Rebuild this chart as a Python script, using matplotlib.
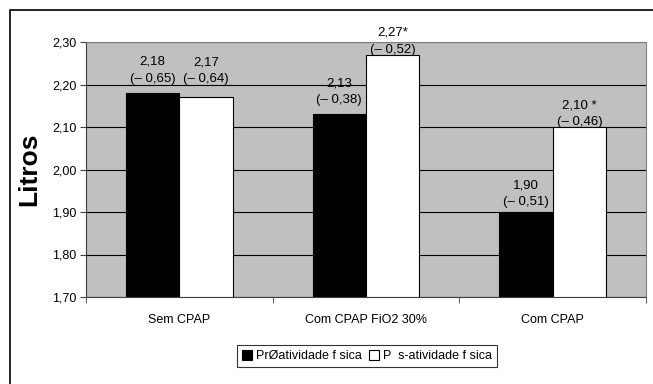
import numpy as np
import matplotlib.pyplot as plt
from matplotlib.patches import Rectangle

# dados
categorias = ['Sem CPAP', 'Com CPAP FiO2 30%', 'Com CPAP']
pre = [2.18, 2.13, 1.90]
pos = [2.17, 2.27, 2.10]
rot_pre = ['2,18\n(– 0,65)', '2,13\n(– 0,38)', '1,90\n(– 0,51)']
rot_pos = ['2,17\n(– 0,64)', '2,27*\n(– 0,52)', '2,10 *\n(– 0,46)']
serie_nomes = ['PrØatividade f sica', 'P  s-atividade f sica']

# deslocamento dos rótulos acima da barra (pontos)
desl_pre = [5.8, 5.8, 2.9]
desl_pos = [8.6, -0.7, -0.7]

plt.rcParams['font.family'] = ['Liberation Sans', 'DejaVu Sans']

fig = plt.figure(figsize=(6.53, 3.84), dpi=100)
# moldura externa (cortada à direita e embaixo)
fig.patches.append(Rectangle((10 / 653, -0.1), 1.1, (384 - 10) / 384 + 0.1,
                             transform=fig.transFigure, fill=False,
                             edgecolor='black', linewidth=1.2))

ax = fig.add_axes([86 / 653, 1 - 297 / 384, (646 - 86) / 653, (297 - 42) / 384])
ax.set_facecolor('#c0c0c0')

x = np.arange(len(categorias))
w = 0.286
b1 = ax.bar(x - w / 2, [v - 1.7 for v in pre], w, bottom=1.7, color='black',
            edgecolor='black', linewidth=0.8, label=serie_nomes[0], zorder=3)
b2 = ax.bar(x + w / 2, [v - 1.7 for v in pos], w, bottom=1.7, color='white',
            edgecolor='black', linewidth=0.8, label=serie_nomes[1], zorder=3)

for xi, v, t, d in zip(x - w / 2, pre, rot_pre, desl_pre):
    ax.annotate(t, (xi, v), xytext=(0, d), textcoords='offset points',
                ha='center', va='bottom', fontsize=9.5, linespacing=1.55, zorder=4)
for xi, v, t, d in zip(x + w / 2, pos, rot_pos, desl_pos):
    ax.annotate(t, (xi, v), xytext=(0, d), textcoords='offset points',
                ha='center', va='bottom', fontsize=9.5, linespacing=1.55,
                annotation_clip=False, zorder=4)

ax.set_ylim(1.70, 2.30)
ax.set_xlim(-0.5, 2.5)
yt = np.arange(1.70, 2.301, 0.10)
ax.set_yticks(yt)
ax.set_yticklabels([f'{v:.2f}'.replace('.', ',') for v in yt], fontsize=9)
ax.yaxis.grid(True, color='black', linewidth=0.8, zorder=1)
ax.set_axisbelow(True)

ax.set_xticks(x)
ax.set_xticklabels(categorias, fontsize=9)
ax.tick_params(axis='x', length=0, pad=12)
ax.set_xticks([-0.5, 0.5, 1.5, 2.5], minor=True)
ax.tick_params(axis='x', which='minor', length=4, direction='out', color='#404040')
ax.tick_params(axis='y', length=4, direction='out', color='#404040', pad=3)

for s in ['top', 'right']:
    ax.spines[s].set_color('#808080')
for s in ['left', 'bottom']:
    ax.spines[s].set_color('#404040')

ax.set_ylabel('Litros', fontsize=19, fontweight='bold', labelpad=8)

leg = fig.legend(handles=[b1, b2], loc='center', bbox_to_anchor=(367 / 653, 1 - 356 / 384),
                 ncol=2, fontsize=9, frameon=True, fancybox=False, edgecolor='black',
                 handlelength=0.8, handleheight=0.8, handletextpad=0.3,
                 columnspacing=0.6, borderpad=0.4)
leg.get_frame().set_linewidth(0.8)

fig.savefig('out.png', dpi=100)
